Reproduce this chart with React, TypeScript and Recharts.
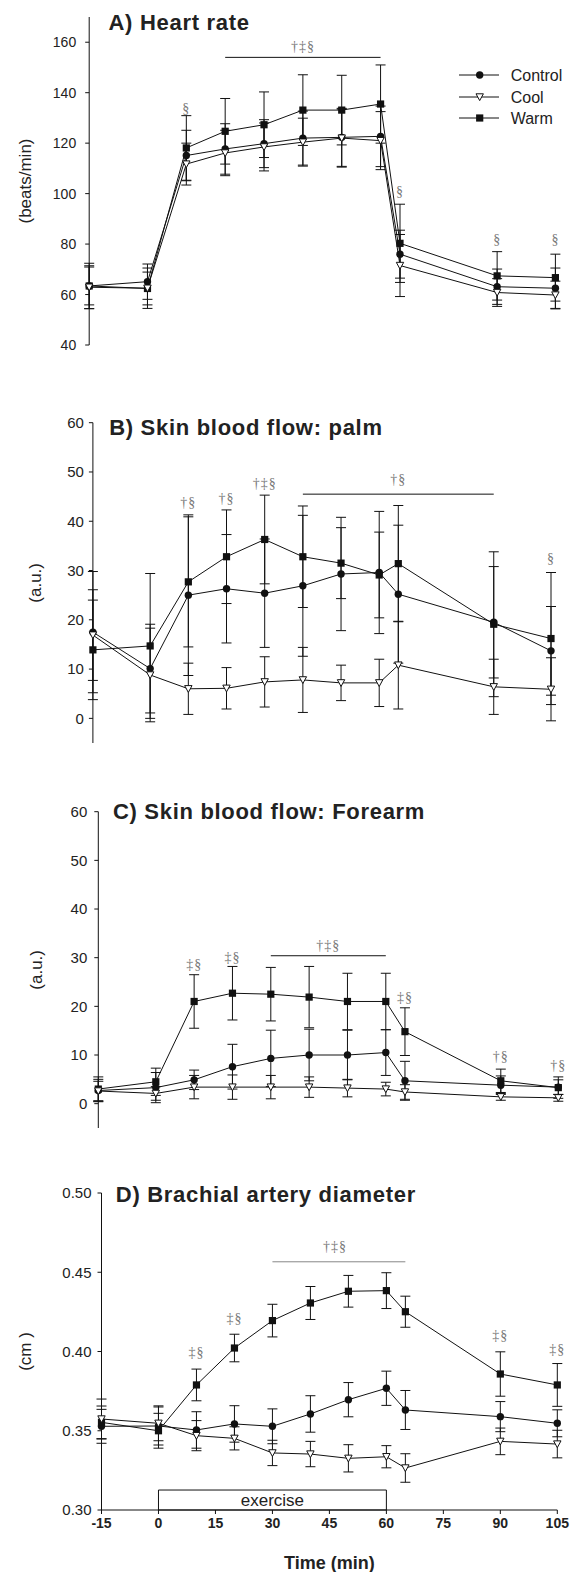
import React from 'react';
import {
  LineChart, Line, XAxis, YAxis, ErrorBar, ReferenceLine, ReferenceDot,
  ReferenceArea, Legend, Customized, Label,
} from 'recharts';

// ---------- data ----------
const times = [-15, 0, 10, 20, 30, 40, 50, 60, 65, 90, 105];

const hrControl = [63.4, 65.1, 115.1, 117.7, 119.8, 122.0, 122.3, 122.7, 76.0, 63.1, 62.5];
const hrControlSD = [9, 7, 10, 10, 9.5, 10.7, 11.5, 12, 9.5, 7, 8];
const hrCool = [62.9, 62.5, 111.7, 116.1, 118.5, 120.4, 122.0, 121.0, 71.5, 60.8, 59.8];
const hrCoolSD = [8.5, 8, 8.3, 9, 9.5, 9.5, 11.5, 11.5, 12.3, 5.5, 5.5];
const hrWarm = [63.4, 62.4, 118.1, 124.7, 127.3, 133.1, 133.1, 135.5, 80.3, 67.4, 66.7];
const hrWarmSD = [7.5, 6.5, 12.8, 13, 13, 14, 13.8, 15.5, 15.5, 9.6, 9.3];

const palmControl = [17.5, 10.1, 25.0, 26.3, 25.4, 26.9, 29.3, 29.6, 25.2, 19.5, 13.7];
const palmControlSD = [12.3, 9, 16.3, 11, 11, 14.3, 11.5, 12.4, 14, 11.3, 9];
const palmCool = [16.9, 8.8, 6.0, 6.1, 7.4, 7.8, 7.2, 7.2, 10.8, 6.4, 5.9];
const palmCoolSD = [9.2, 9.5, 5.2, 4.2, 5.1, 6.6, 3.6, 4.8, 8.9, 5.6, 6.4];
const palmWarm = [13.9, 14.7, 27.7, 32.8, 36.3, 32.8, 31.5, 29.1, 31.4, 19.1, 16.2];
const palmWarmSD = [10.1, 14.7, 13.2, 9.5, 9, 10.3, 7.2, 8.7, 11.8, 14.7, 13.4];

const faControl = [2.7, 3.3, 4.9, 7.6, 9.3, 10.0, 10.0, 10.5, 4.7, 3.8, 3.4];
const faControlSD = [2.3, 3.1, 2.0, 4.6, 5.8, 5.3, 5.1, 4.7, 4.0, 1.9, 1.5];
const faCool = [2.6, 2.1, 3.4, 3.4, 3.4, 3.4, 3.2, 3.0, 2.4, 1.4, 1.2];
const faCoolSD = [2.0, 1.4, 2.4, 2.5, 2.4, 2.1, 1.8, 1.4, 1.5, 0.7, 0.7];
const faWarm = [3.0, 4.5, 21.0, 22.7, 22.5, 21.9, 21.0, 21.0, 14.8, 4.7, 3.3];
const faWarmSD = [2.5, 2.8, 5.5, 5.5, 5.5, 6.3, 5.8, 5.8, 4.9, 2.4, 2.2];

const baControl = [0.3528, 0.353, 0.3505, 0.3543, 0.3528, 0.3606, 0.3696, 0.3768, 0.3631, 0.3589, 0.3547];
const baControlSD = [0.0107, 0.012, 0.0115, 0.0115, 0.011, 0.0115, 0.0108, 0.0108, 0.0123, 0.0095, 0.0085];
const baCool = [0.3574, 0.3547, 0.3469, 0.3452, 0.336, 0.3353, 0.3326, 0.3336, 0.3265, 0.3433, 0.3416];
const baCoolSD = [0.0126, 0.011, 0.0095, 0.0073, 0.008, 0.008, 0.0086, 0.007, 0.009, 0.0084, 0.0087];
const baWarm = [0.3553, 0.350, 0.3789, 0.4022, 0.4195, 0.4306, 0.438, 0.4384, 0.4251, 0.3858, 0.3789];
const baWarmSD = [0.0103, 0.011, 0.010, 0.0087, 0.0103, 0.0104, 0.010, 0.0113, 0.0098, 0.014, 0.0135];

const hrTicks = [40, 60, 80, 100, 120, 140, 160];
const sbfTicks = [0, 10, 20, 30, 40, 50, 60];
const baTicks = [0.3, 0.35, 0.4, 0.45, 0.5];
const timeTicks = [-15, 0, 15, 30, 45, 60, 75, 90, 105];

const seriesNames = ['Control', 'Cool', 'Warm'];

// significance marks: [time, value, text]
const hrMarks: [number, number, string][] = [[10, 134, '§'], [40, 158.4, '†‡§'], [65, 101, '§'], [90, 82, '§'], [105, 82, '§']];
const hrBars: [number, number, number][] = [[20, 60, 154]];
const palmMarks: [number, number, string][] = [[10, 44, '†§'], [20, 44.7, '†§'], [30, 47.8, '†‡§'], [65, 48.5, '†§'], [105, 32.5, '§']];
const palmBars: [number, number, number][] = [[40, 90, 45.5]];
const faMarks: [number, number, string][] = [[10, 28.7, '‡§'], [20, 30.1, '‡§'], [45, 32.5, '†‡§'], [65, 22, '‡§'], [90, 9.8, '†§'], [105, 7.9, '†§']];
const faBars: [number, number, number][] = [[30, 60, 30.4]];
const baMarks: [number, number, string][] = [[10, 0.3999, '‡§'], [20, 0.4209, '‡§'], [46.5, 0.4666, '†‡§'], [90, 0.4104, '‡§'], [105, 0.4016, '‡§']];
const baBars: [number, number, number][] = [[30, 65, 0.4566]];
const exercisePeriod = [0, 60];

// ---------- helpers ----------
const FONT = '"Liberation Sans", Arial, Helvetica, sans-serif';
const SERIF = '"Liberation Serif", "Times New Roman", serif';
const INK = '#111';

function rows(c: number[], cE: number[], o: number[], oE: number[], w: number[], wE: number[]) {
  return times.map((t, i) => ({ t, c: c[i], cE: cE[i], o: o[i], oE: oE[i], w: w[i], wE: wE[i] }));
}

const circleDot = (p: any) =>
  p.cx == null ? <g key={`c${p.index}`} /> : <circle key={`c${p.index}`} cx={p.cx} cy={p.cy} r={3.7} fill={INK} />;
const squareDot = (p: any) =>
  p.cx == null ? <g key={`s${p.index}`} /> : <rect key={`s${p.index}`} x={p.cx - 3.6} y={p.cy - 3.6} width={7.2} height={7.2} fill={INK} />;
const triDot = (p: any) =>
  p.cx == null ? <g key={`t${p.index}`} /> : (
    <polygon key={`t${p.index}`} points={`${p.cx - 3.7},${p.cy - 3.2} ${p.cx + 3.7},${p.cy - 3.2} ${p.cx},${p.cy + 3.6}`} fill="#fff" stroke={INK} strokeWidth={1} />
  );

const LegendBox = () => {
  const ys = [12, 34, 55];
  const marks = [
    <circle cx={24.7} cy={ys[0]} r={3.7} fill={INK} />,
    <polygon points={`${24.7 - 3.7},${ys[1] - 3.2} ${24.7 + 3.7},${ys[1] - 3.2} 24.7,${ys[1] + 3.6}`} fill="#fff" stroke={INK} />,
    <rect x={24.7 - 3.6} y={ys[2] - 3.6} width={7.2} height={7.2} fill={INK} />,
  ];
  return (
    <svg width={116} height={66} style={{ display: 'block' }}>
      {seriesNames.map((n, i) => (
        <g key={n}>
          <line x1={4} x2={44} y1={ys[i]} y2={ys[i]} stroke={INK} strokeWidth={1} />
          {marks[i]}
          <text x={55.7} y={ys[i]} dominantBaseline="central" fontSize={16} fontFamily={FONT} fill="#222">{n}</text>
        </g>
      ))}
    </svg>
  );
};

type PanelCfg = {
  top: number; height: number; margin: any; yWidth: number; domain: number[]; ticks: number[];
  tickFont: number; tickMargin: number; title: string; titleX: number; titleY: number;
  yLabel: string; yLabelX: number; data: any[]; marks: [number, number, string][]; bars: [number, number, number][];
  barColor: string; showX?: boolean; legend?: boolean; fmt?: (v: number) => string; exercise?: boolean;
};

function Panel({ cfg }: { cfg: PanelCfg }) {
  const yLab = (props: any) => {
    const vb = props.viewBox;
    const cx = cfg.yLabelX;
    const cy = vb.y + vb.height / 2;
    return (
      <text x={cx} y={cy} transform={`rotate(-90 ${cx} ${cy})`} textAnchor="middle" dominantBaseline="central" fontSize={17} fontFamily={FONT} fill="#222">
        {cfg.yLabel}
      </text>
    );
  };
  const xLab = (props: any) => {
    const vb = props.viewBox;
    return (
      <text x={vb.x + vb.width / 2} y={vb.y + 59} textAnchor="middle" fontSize={18} fontWeight="bold" fontFamily={FONT} fill="#222">
        Time (min)
      </text>
    );
  };
  return (
    <div style={{ position: 'absolute', left: 0, top: cfg.top }}>
      <LineChart width={571} height={cfg.height} data={cfg.data} margin={cfg.margin}>
        <XAxis
          type="number" dataKey="t" domain={[-15, 105]} ticks={timeTicks} interval={0}
          hide={!cfg.showX} height={62} tickSize={4} tickMargin={4}
          axisLine={{ stroke: INK }} tickLine={{ stroke: INK }}
          tick={{ fontSize: 14, fontWeight: 'bold', fill: '#222', fontFamily: FONT }}
          label={cfg.showX ? <Label content={xLab} /> : undefined}
        />
        <YAxis
          type="number" domain={cfg.domain} ticks={cfg.ticks} interval={0} width={cfg.yWidth}
          tickSize={4} tickMargin={cfg.tickMargin} axisLine={{ stroke: INK }} tickLine={{ stroke: INK }}
          tick={{ fontSize: cfg.tickFont, fill: '#222', fontFamily: FONT }}
          tickFormatter={cfg.fmt}
          label={<Label content={yLab} />}
          allowDataOverflow
        />
        {cfg.exercise && (
          <ReferenceArea
            x1={exercisePeriod[0]} x2={exercisePeriod[1]} y1={0.3} y2={0.3126}
            fill="#fff" fillOpacity={1} stroke={INK} strokeWidth={1} ifOverflow="visible"
            label={{ value: 'exercise', position: 'center', fontSize: 17, fill: '#222', fontFamily: FONT }}
          />
        )}
        {cfg.bars.map(([x1, x2, y], i) => (
          <ReferenceLine key={`b${i}`} segment={[{ x: x1, y }, { x: x2, y }]} stroke={cfg.barColor} strokeWidth={1} ifOverflow="visible" />
        ))}
        {cfg.marks.map(([x, y, s], i) => (
          <ReferenceDot
            key={`m${i}`} x={x} y={y} r={0} fill="none" stroke="none" ifOverflow="visible"
            label={{ value: s, position: 'center', fontSize: 14, fill: '#777', fontFamily: SERIF, letterSpacing: 1 }}
          />
        ))}
        <Line name="Control" dataKey="c" stroke={INK} strokeWidth={1} dot={circleDot} activeDot={false} isAnimationActive={false}>
          <ErrorBar dataKey="cE" width={5} stroke={INK} strokeWidth={1} direction="y" isAnimationActive={false} />
        </Line>
        <Line name="Warm" dataKey="w" stroke={INK} strokeWidth={1} dot={squareDot} activeDot={false} isAnimationActive={false}>
          <ErrorBar dataKey="wE" width={5} stroke={INK} strokeWidth={1} direction="y" isAnimationActive={false} />
        </Line>
        <Line name="Cool" dataKey="o" stroke={INK} strokeWidth={1} dot={triDot} activeDot={false} isAnimationActive={false}>
          <ErrorBar dataKey="oE" width={5} stroke={INK} strokeWidth={1} direction="y" isAnimationActive={false} />
        </Line>
        {cfg.legend && (
          <Legend
            layout="horizontal" verticalAlign="middle" align="center"
            wrapperStyle={{ left: 455, top: 63, width: 116, height: 66 }}
            content={() => <LegendBox />}
          />
        )}
        <Customized
          component={() => (
            <text x={cfg.titleX} y={cfg.titleY} fontSize={22} fontWeight="bold" letterSpacing={0.7} fontFamily={FONT} fill="#222">
              {cfg.title}
            </text>
          )}
        />
      </LineChart>
    </div>
  );
}

const panels: PanelCfg[] = [
  {
    top: 0, height: 360, margin: { top: 17, right: 15.6, left: 0, bottom: 15 }, yWidth: 89.2,
    domain: [40, 170], ticks: hrTicks, tickFont: 14, tickMargin: 9,
    title: 'A) Heart rate', titleX: 108.5, titleY: 30, yLabel: '(beats/min)', yLabelX: 25.5,
    data: rows(hrControl, hrControlSD, hrCool, hrCoolSD, hrWarm, hrWarmSD),
    marks: hrMarks, bars: hrBars, barColor: INK, legend: true,
  },
  {
    top: 380, height: 375, margin: { top: 42.7, right: 20, left: 0, bottom: 12 }, yWidth: 92.9,
    domain: [-5, 60], ticks: sbfTicks, tickFont: 15, tickMargin: 5,
    title: 'B) Skin blood flow: palm', titleX: 109.2, titleY: 55, yLabel: '(a.u.)', yLabelX: 35.5,
    data: rows(palmControl, palmControlSD, palmCool, palmCoolSD, palmWarm, palmWarmSD),
    marks: palmMarks, bars: palmBars, barColor: INK,
  },
  {
    top: 780, height: 360, margin: { top: 31.7, right: 12.7, left: 0, bottom: 12 }, yWidth: 98.3,
    domain: [-5, 60], ticks: sbfTicks, tickFont: 15, tickMargin: 7,
    title: 'C) Skin blood flow: Forearm', titleX: 112.9, titleY: 39, yLabel: '(a.u.)', yLabelX: 37,
    data: rows(faControl, faControlSD, faCool, faCoolSD, faWarm, faWarmSD),
    marks: faMarks, bars: faBars, barColor: INK,
  },
  {
    top: 1160, height: 412, margin: { top: 33, right: 13.7, left: 0, bottom: 0 }, yWidth: 101.5,
    domain: [0.3, 0.5], ticks: baTicks, tickFont: 15, tickMargin: 6,
    title: 'D) Brachial artery diameter', titleX: 115.8, titleY: 42, yLabel: '(cm )', yLabelX: 25,
    data: rows(baControl, baControlSD, baCool, baCoolSD, baWarm, baWarmSD),
    marks: baMarks, bars: baBars, barColor: '#888', showX: true, exercise: true,
    fmt: (v: number) => v.toFixed(2),
  },
];

export default function App() {
  return (
    <div style={{ position: 'absolute', left: 0, top: 0, width: 571, height: 1572, background: '#fff', fontFamily: FONT, overflow: 'hidden' }}>
      {panels.map((p, i) => (
        <Panel key={i} cfg={p} />
      ))}
    </div>
  );
}
